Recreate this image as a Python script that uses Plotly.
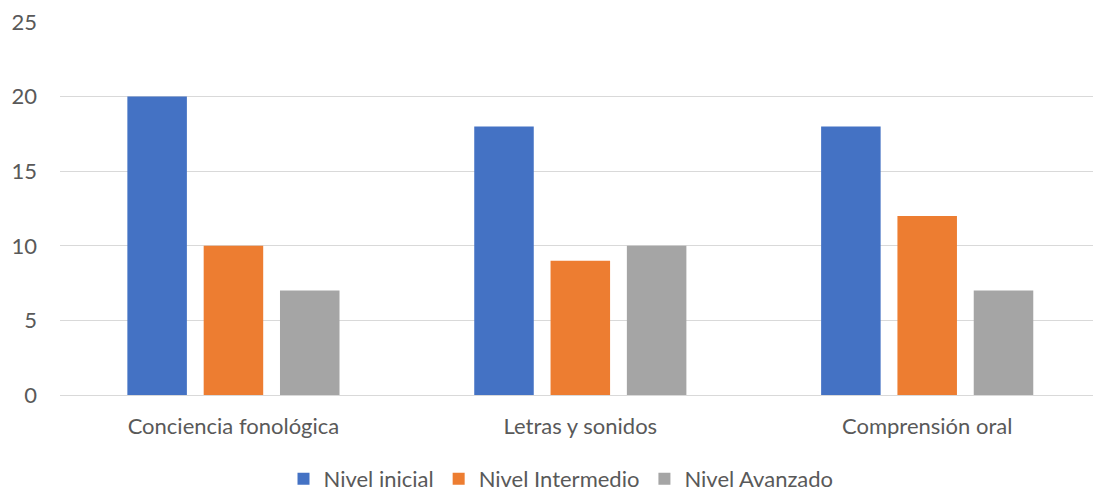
import plotly.graph_objects as go

categories = ["Conciencia fonológica", "Letras y sonidos", "Comprensión oral"]
nivel_inicial = [20, 18, 18]
nivel_intermedio = [10, 9, 12]
nivel_avanzado = [7, 10, 7]
series_names = ["Nivel inicial", "Nivel Intermedio", "Nivel Avanzado"]
colors = ["#4472C4", "#ED7D31", "#A5A5A5"]

fig = go.Figure()
for name, vals, c in zip(series_names, [nivel_inicial, nivel_intermedio, nivel_avanzado], colors):
    fig.add_trace(go.Bar(x=categories, y=vals, name=name, marker=dict(color=c, line=dict(width=0))))

font_family = "Lato, 'Open Sans', sans-serif"
fs = 22
fig.update_layout(
    width=1094, height=496,
    margin=dict(l=60, r=1, t=22, b=101, autoexpand=False),
    paper_bgcolor="white", plot_bgcolor="white",
    barmode="group", bargap=0.34, bargroupgap=0.22,
    font=dict(family=font_family, size=fs, color="#595959"),
    legend=dict(orientation="h", x=0.485, xanchor="center", y=-0.225, yanchor="middle",
                font=dict(size=fs, color="#595959"), itemwidth=30, tracegroupgap=0,
                traceorder="normal"),
    xaxis=dict(showgrid=False, showline=False, ticks="", ticklabelstandoff=16,
               range=[-0.5, 2.478], automargin=False,
               tickfont=dict(size=fs, color="#595959")),
    yaxis=dict(range=[0, 25], dtick=5, showgrid=True, gridcolor="#D9D9D9", gridwidth=1,
               zeroline=True, zerolinecolor="#D9D9D9", zerolinewidth=1,
               showline=False, ticks="", ticklabelstandoff=22, automargin=False,
               tickfont=dict(size=fs, color="#595959")),
)
fig.write_html("out.html", config={"displayModeBar": False},
               post_script="document.body.style.margin='0';")
